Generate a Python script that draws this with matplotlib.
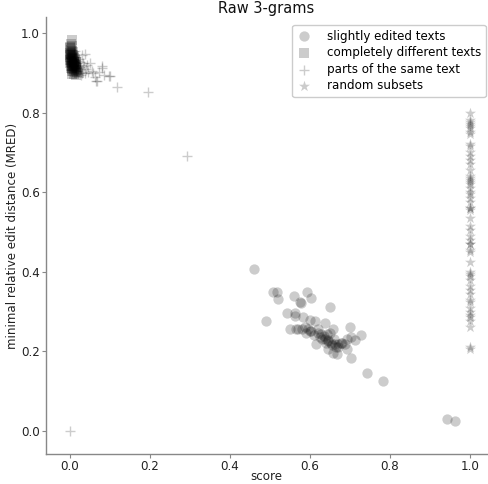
import matplotlib
matplotlib.use("Agg")
import matplotlib.pyplot as plt

# slightly edited texts (circles)
edited_x = [0.461, 0.489, 0.508, 0.517, 0.521, 0.560, 0.592, 0.602, 0.575, 0.579,
            0.650, 0.542, 0.5625, 0.5625, 0.582, 0.600, 0.6125, 0.6375, 0.550, 0.565,
            0.570, 0.5875, 0.596, 0.604, 0.621, 0.629, 0.642, 0.650, 0.658, 0.625,
            0.6375, 0.646, 0.654, 0.6625, 0.671, 0.679, 0.6875, 0.615, 0.646, 0.658,
            0.668, 0.692, 0.700, 0.727, 0.7125, 0.692, 0.704, 0.704, 0.744, 0.783,
            0.944, 0.9625, 0.600, 0.610, 0.630, 0.640, 0.660, 0.670, 0.680, 0.590,
            0.620, 0.655, 0.580, 0.635, 0.645, 0.665]
edited_y = [0.407, 0.275, 0.349, 0.349, 0.331, 0.338, 0.348, 0.333, 0.323, 0.321,
            0.312, 0.296, 0.297, 0.289, 0.285, 0.279, 0.275, 0.272, 0.256, 0.257,
            0.256, 0.260, 0.256, 0.251, 0.247, 0.243, 0.243, 0.247, 0.256, 0.235,
            0.231, 0.226, 0.222, 0.218, 0.218, 0.222, 0.218, 0.218, 0.205, 0.197,
            0.193, 0.205, 0.261, 0.241, 0.229, 0.232, 0.235, 0.182, 0.146, 0.125,
            0.030, 0.026, 0.250, 0.240, 0.230, 0.220, 0.230, 0.210, 0.220, 0.245,
            0.255, 0.215, 0.255, 0.238, 0.228, 0.212]

# completely different texts (squares)
different_x = [0.004, 0.002, 0.006, 0.001, 0.003, 0.005, 0.008, 0.000, 0.002, 0.004,
               0.007, 0.010, 0.001, 0.003, 0.006, 0.009, 0.012, 0.000, 0.002, 0.005,
               0.008, 0.011, 0.014, 0.001, 0.004, 0.007, 0.010, 0.013, 0.016, 0.002,
               0.005, 0.009, 0.012, 0.015, 0.018, 0.003, 0.006, 0.010, 0.014, 0.020,
               0.004, 0.008, 0.012, 0.017, 0.022, 0.006, 0.011, 0.016, 0.001, 0.003,
               0.007, 0.002, 0.005, 0.009, 0.013, 0.000, 0.004, 0.008]
different_y = [0.981, 0.972, 0.968, 0.962, 0.958, 0.955, 0.952, 0.950, 0.948, 0.945,
               0.944, 0.942, 0.940, 0.938, 0.937, 0.936, 0.934, 0.933, 0.931, 0.930,
               0.929, 0.928, 0.926, 0.925, 0.924, 0.923, 0.922, 0.921, 0.919, 0.918,
               0.917, 0.916, 0.915, 0.914, 0.912, 0.911, 0.910, 0.909, 0.908, 0.907,
               0.905, 0.904, 0.903, 0.902, 0.900, 0.898, 0.897, 0.895, 0.964, 0.946,
               0.939, 0.927, 0.935, 0.926, 0.920, 0.944, 0.913, 0.918]

# parts of the same text (crosses)
parts_x = [0.100, 0.079, 0.065, 0.117, 0.196, 0.292, 0.000, 0.0375, 0.050, 0.079,
           0.098, 0.0625, 0.067, 0.029, 0.046, 0.020, 0.025, 0.032, 0.040, 0.015,
           0.018, 0.027, 0.035, 0.055, 0.010, 0.022, 0.043, 0.012, 0.030, 0.058,
           0.072, 0.085, 0.008, 0.016, 0.024, 0.038]
parts_y = [0.893, 0.916, 0.878, 0.865, 0.851, 0.692, 0.000, 0.947, 0.924, 0.911,
           0.893, 0.890, 0.878, 0.899, 0.903, 0.930, 0.915, 0.925, 0.910, 0.940,
           0.905, 0.895, 0.918, 0.905, 0.920, 0.935, 0.920, 0.955, 0.945, 0.900,
           0.902, 0.895, 0.930, 0.912, 0.928, 0.900]

# random subsets (stars)
subsets_y = [0.800, 0.780, 0.775, 0.770, 0.765, 0.760, 0.750, 0.745, 0.720, 0.715,
             0.700, 0.690, 0.680, 0.670, 0.655, 0.635, 0.625, 0.620, 0.610, 0.600,
             0.595, 0.585, 0.575, 0.560, 0.555, 0.535, 0.515, 0.505, 0.490, 0.480,
             0.470, 0.455, 0.450, 0.425, 0.400, 0.395, 0.380, 0.365, 0.355, 0.345,
             0.330, 0.325, 0.310, 0.300, 0.285, 0.275, 0.260, 0.210, 0.205, 0.640,
             0.630, 0.560, 0.470, 0.390, 0.290]
subsets_x = [1.0] * len(subsets_y)

fig = plt.figure(figsize=(4.88, 4.84), dpi=100)
ax = fig.add_axes([46 / 488, 30 / 484, 441 / 488, 437 / 484])

ax.scatter(edited_x, edited_y, marker='o', s=55, c='k', alpha=0.2, linewidths=0,
           label='slightly edited texts')
ax.scatter(different_x, different_y, marker='s', s=45, c='k', alpha=0.2, linewidths=0,
           label='completely different texts')
ax.scatter(parts_x, parts_y, marker='+', s=55, c='k', alpha=0.2, linewidths=1,
           label='parts of the same text')
ax.scatter(subsets_x, subsets_y, marker='*', s=70, c='k', alpha=0.2, linewidths=0,
           label='random subsets')

ax.set_xlim(-0.06, 1.043)
ax.set_ylim(-0.058, 1.04)
ax.set_xticks([0.0, 0.2, 0.4, 0.6, 0.8, 1.0])
ax.set_yticks([0.0, 0.2, 0.4, 0.6, 0.8, 1.0])

for s in ['top', 'right']:
    ax.spines[s].set_visible(False)
for s in ['left', 'bottom']:
    ax.spines[s].set_color('#888888')
    ax.spines[s].set_linewidth(1)
ax.tick_params(direction='out', length=3, width=0.8, color='#888888',
               labelsize=8.6, labelcolor='#222222', pad=1.5)

ax.set_xlabel('score', fontsize=8.6, color='#222222', labelpad=-2.5)
ax.set_ylabel('minimal relative edit distance (MRED)', fontsize=8.6, color='#222222',
              labelpad=1)
ax.set_title('Raw 3-grams', fontsize=10.5, color='#111111', pad=3)

leg = ax.legend(loc='upper right', fontsize=8.6, frameon=True, framealpha=1,
                edgecolor='#cccccc', fancybox=True, borderpad=0.4, handletextpad=1.3,
                handlelength=1.2, labelspacing=0.3, borderaxespad=0.1,
                bbox_to_anchor=(1.0, 0.985))

fig.savefig('out.png', dpi=100)
